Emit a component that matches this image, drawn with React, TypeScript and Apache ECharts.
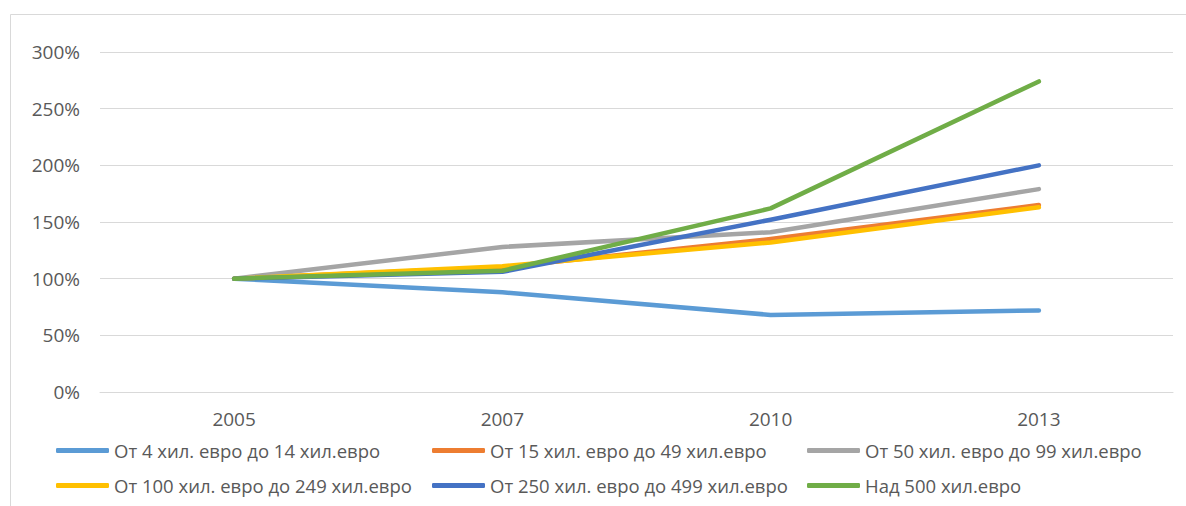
import React, { useEffect, useRef } from "react";
import * as echarts from "echarts";

const years = ["2005", "2007", "2010", "2013"];

const s4to14 = [100, 88, 68, 72];
const s15to49 = [100, 110, 135, 165];
const s50to99 = [100, 128, 141, 179];
const s100to249 = [100, 111, 132, 163];
const s250to499 = [100, 106, 152, 200];
const sOver500 = [100, 107, 162, 274];

const seriesNames = [
  "От 4 хил. евро до 14 хил.евро",
  "От 15 хил. евро до 49 хил.евро",
  "От 50 хил. евро до 99 хил.евро",
  "От 100 хил. евро до 249 хил.евро",
  "От 250 хил. евро до 499 хил.евро",
  "Над 500 хил.евро",
];
const seriesData = [s4to14, s15to49, s50to99, s100to249, s250to499, sOver500];
const colors = ["#5B9BD5", "#ED7D31", "#A5A5A5", "#FFC000", "#4472C4", "#70AD47"];

const FONT = "Open Sans";
const TEXT_COLOR = "#595959";

// legend slots: three columns, two rows
const legendCols = [56, 432, 807];
const legendRows = [441, 476];

export default function App() {
  const ref = useRef<HTMLDivElement>(null);

  useEffect(() => {
    if (!ref.current) return;
    const chart = echarts.init(ref.current, undefined, { renderer: "svg" });

    const legends = seriesNames.map((name, i) => ({
      data: [name],
      left: legendCols[i % 3],
      top: legendRows[Math.floor(i / 3)],
      icon: "roundRect",
      itemWidth: 53,
      itemHeight: 5,
      itemGap: 0,
      padding: 0,
      textStyle: { color: TEXT_COLOR, fontSize: 18.5, fontFamily: FONT },
    }));

    chart.setOption({
      animation: false,
      backgroundColor: "#ffffff",
      graphic: [
        {
          type: "rect",
          shape: { x: 10.5, y: 14.5, width: 1300, height: 700 },
          style: { fill: "none", stroke: "#d9d9d9", lineWidth: 1 },
          silent: true,
        },
      ],
      grid: { left: 100, right: 13, top: 52, bottom: 114, containLabel: false },
      legend: legends,
      xAxis: {
        type: "category",
        data: years,
        boundaryGap: true,
        axisLine: { show: true, lineStyle: { color: "#d9d9d9", width: 1 } },
        axisTick: { show: false },
        axisLabel: { color: TEXT_COLOR, fontSize: 19, fontFamily: FONT, margin: 17 },
      },
      yAxis: {
        type: "value",
        min: 0,
        max: 300,
        interval: 50,
        axisLine: { show: false },
        axisTick: { show: false },
        splitLine: { lineStyle: { color: "#d9d9d9", width: 1 } },
        axisLabel: {
          color: TEXT_COLOR,
          fontSize: 19,
          fontFamily: FONT,
          margin: 20,
          formatter: "{value}%",
        },
      },
      series: seriesNames.map((name, i) => ({
        name,
        type: "line",
        data: seriesData[i],
        symbol: "none",
        color: colors[i],
        lineStyle: { color: colors[i], width: 4.5, cap: "round", join: "round" },
      })),
    });

    return () => chart.dispose();
  }, []);

  return (
    <div
      ref={ref}
      style={{ position: "fixed", left: 0, top: 0, width: 1186, height: 506 }}
    />
  );
}
